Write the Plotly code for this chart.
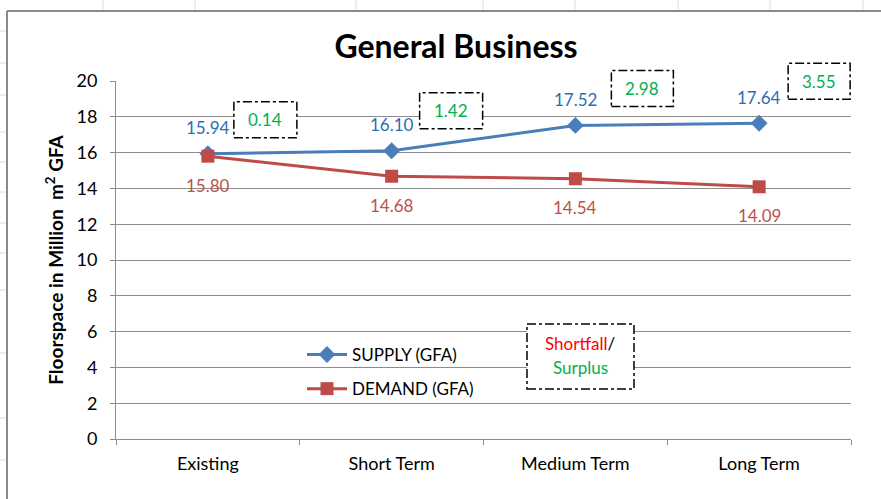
import plotly.graph_objects as go

# ---- data ----
categories = ["Existing", "Short Term", "Medium Term", "Long Term"]
supply = [15.94, 16.10, 17.52, 17.64]
demand = [15.80, 14.68, 14.54, 14.09]
surplus = [0.14, 1.42, 2.98, 3.55]
y_ticks = [0, 2, 4, 6, 8, 10, 12, 14, 16, 18, 20]

# ---- styling ----
FONT = "Lato, Carlito, Calibri, sans-serif"
SUP_LINE = "#4A7EBB"
SUP_TEXT = "#2E6DB4"
DEM_LINE = "#BE4B48"
DEM_TEXT = "#C0504D"
GREEN = "#00B050"
GRID = "#8C8C8C"

W, H = 881, 499
L, R, T, B = 116, 30, 81, 60
PW, PH = W - L - R, H - T - B
Y_MAX = 20


def px_x(x):
    return (x - L) / PW


def px_y(y):
    return (H - B - y) / PH


fig = go.Figure()
fig.add_trace(go.Scatter(
    x=categories, y=supply, name="SUPPLY (GFA)", mode="lines+markers",
    line=dict(color=SUP_LINE, width=3),
    marker=dict(symbol="diamond", size=13, color=SUP_LINE),
    legendgroup="a",
))
fig.add_trace(go.Scatter(
    x=categories, y=demand, name="DEMAND (GFA)", mode="lines+markers",
    line=dict(color=DEM_LINE, width=3),
    marker=dict(symbol="square", size=13, color=DEM_LINE),
    legendgroup="b",
))

annotations = []
shapes = []

# data labels
for c, s, d in zip(categories, supply, demand):
    annotations.append(dict(x=c, y=s, xref="x", yref="y", text=f"{s:.2f}",
                            showarrow=False, yshift=26,
                            xanchor="center", yanchor="middle",
                            font=dict(family=FONT, size=17, color=SUP_TEXT)))
    annotations.append(dict(x=c, y=d, xref="x", yref="y", text=f"{d:.2f}",
                            showarrow=False, yshift=-29,
                            xanchor="center", yanchor="middle",
                            font=dict(family=FONT, size=17, color=DEM_TEXT)))

# surplus boxes anchored to supply points (pixel offsets), paper-referenced so not clipped
box_offsets = [(26, 89, 16, 52), (28, 91, 22, 58), (36, 98, 19, 55), (29, 91, 24, 60)]
n = len(categories)
for i, (c, s, v) in enumerate(zip(categories, supply, surplus)):
    x0, x1, y0, y1 = box_offsets[i]
    shapes.append(dict(type="rect", xref="paper", yref="paper",
                       xsizemode="pixel", ysizemode="pixel",
                       xanchor=(i + 0.5) / n, yanchor=s / Y_MAX,
                       x0=x0, x1=x1, y0=y0, y1=y1,
                       line=dict(color="black", width=1.5, dash="dashdot"),
                       fillcolor="white", layer="above"))
    annotations.append(dict(x=c, y=s, xref="x", yref="y", text=f"{v:.2f}",
                            showarrow=False, xshift=(x0 + x1) / 2,
                            yshift=(y0 + y1) / 2,
                            xanchor="center", yanchor="middle",
                            font=dict(family=FONT, size=17, color=GREEN)))

# Shortfall / Surplus key box
shapes.append(dict(type="rect", xref="paper", yref="paper",
                   x0=px_x(527), x1=px_x(634), y0=px_y(389), y1=px_y(324),
                   line=dict(color="black", width=1.5, dash="dashdot"),
                   fillcolor="white", layer="above"))
annotations.append(dict(xref="paper", yref="paper", x=px_x(580), y=px_y(343),
                        xanchor="center", yanchor="middle",
                        text="<span style='color:#FF0000'>Shortfall</span>/",
                        showarrow=False, font=dict(family=FONT, size=17, color="black")))
annotations.append(dict(xref="paper", yref="paper", x=px_x(580), y=px_y(367),
                        xanchor="center", yanchor="middle",
                        text="Surplus", showarrow=False,
                        font=dict(family=FONT, size=17, color=GREEN)))

# chart area border (Excel)
shapes.append(dict(type="line", xref="paper", yref="paper",
                   x0=px_x(7), x1=px_x(7), y0=px_y(11), y1=px_y(499),
                   line=dict(color="#8A8A8A", width=2)))
shapes.append(dict(type="line", xref="paper", yref="paper",
                   x0=px_x(7), x1=px_x(881), y0=px_y(11), y1=px_y(11),
                   line=dict(color="#8A8A8A", width=2)))
# faint spreadsheet grid outside chart
for gx in [103, 195, 356, 483, 575, 678, 770, 863]:
    shapes.append(dict(type="line", xref="paper", yref="paper",
                       x0=px_x(gx), x1=px_x(gx), y0=px_y(0), y1=px_y(10),
                       line=dict(color="#DADCE0", width=1)))
for gy in [31, 63, 95, 132, 162, 192, 223, 253, 290, 353, 418, 460]:
    shapes.append(dict(type="line", xref="paper", yref="paper",
                       x0=px_x(0), x1=px_x(6), y0=px_y(gy), y1=px_y(gy),
                       line=dict(color="#DADCE0", width=1)))

fig.update_layout(
    width=W, height=H,
    margin=dict(l=L, r=R, t=T, b=B, autoexpand=False),
    paper_bgcolor="white", plot_bgcolor="white",
    font=dict(family=FONT, color="black"),
    title=dict(text="<b>General Business</b>", x=456 / W, xanchor="center",
               xref="container", y=1 - 47 / H, yanchor="middle", yref="container",
               font=dict(family=FONT, size=32, color="black")),
    showlegend=True,
    legend=dict(x=px_x(302), y=px_y(337), xanchor="left", yanchor="top",
                bgcolor="rgba(0,0,0,0)", traceorder="grouped",
                tracegroupgap=9, font=dict(family=FONT, size=17, color="black"),
                itemwidth=40),
    shapes=shapes,
    annotations=annotations,
)
fig.update_xaxes(
    type="category", categoryorder="array", categoryarray=categories,
    range=[-0.5, 3.5], showgrid=False,
    showline=True, linecolor=GRID, linewidth=1,
    ticks="outside", tickson="boundaries", ticklen=5, tickcolor=GRID,
    ticklabelstandoff=8,
    tickfont=dict(family=FONT, size=18, color="black"),
    zeroline=False,
)
fig.update_yaxes(
    range=[0, Y_MAX], tickvals=y_ticks, ticktext=[str(v) for v in y_ticks],
    showgrid=True, gridcolor=GRID, gridwidth=1,
    showline=True, linecolor=GRID, linewidth=1,
    ticks="outside", ticklen=5, tickcolor=GRID,
    ticklabelstandoff=9,
    tickfont=dict(family=FONT, size=18, color="black"),
    zeroline=False,
    title=dict(text="<b>Floorspace in Million  m<sup>2</sup> GFA</b>",
               font=dict(family=FONT, size=19, color="black"), standoff=7),
)

fig.write_html("out.html", config={"displayModeBar": False},
               post_script="document.body.style.margin='0';")
